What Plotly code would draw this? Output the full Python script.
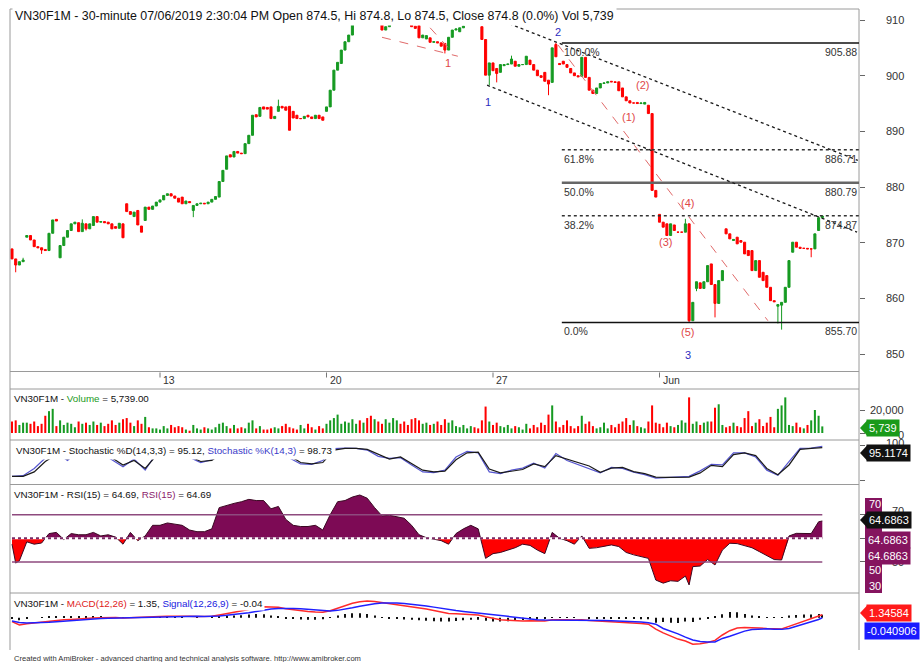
import plotly.graph_objects as go

# ---------------- DATA ----------------
# 30-minute bars, 9 per session; bar 0 = last bars of 6 May, last bar = 7 Jun 14:30
opens = [
    868.9, 867.1, 866.0, 866.6,
    871.0, 871.3, 870.5, 869.3, 869.1, 868.8, 868.6, 871.7, 874.2,
    867.3, 869.5, 871.0, 872.2, 873.4, 873.6, 872.0, 873.4, 872.5,
    873.1, 874.7, 873.7, 873.8, 873.7, 873.4, 872.9, 872.6, 873.4,
    877.0, 875.6, 874.7, 875.8, 873.0, 874.0, 876.4, 876.0, 876.6,
    877.3, 877.7, 878.5, 878.8, 878.4, 878.0, 878.2, 877.0, 877.4,
    875.8, 876.7, 877.0, 877.1, 877.0, 877.3, 877.8, 878.2, 881.0,
    883.2, 885.8, 885.4, 886.4, 886.1, 886.0, 887.8, 889.3, 893.0,
    892.7, 894.4, 894.3, 894.4, 892.3, 893.6, 894.5, 894.4, 894.5,
    893.6, 892.9, 892.3, 892.3, 892.9, 892.6, 892.3, 892.9, 892.6,
    893.6, 894.4, 897.4, 901.0, 902.2, 904.6, 906.1, 907.3, 909.5,
    911.0, 910.4, 911.2, 910.8, 910.2, 910.6, 909.2, 908.2, 908.8,
    910.2, 910.8, 911.0, 910.4, 909.8, 909.2, 908.9, 909.0, 906.8,
    906.6, 906.8, 906.0, 906.1, 905.9, 905.8, 904.6, 906.9, 908.2,
    907.9, 908.6, 909.3, 909.8, 910.5, 910.2, 908.8, 906.5, 900.1,
    902.3, 901.3, 900.6, 901.8, 902.0, 902.1, 902.6, 901.7, 902.0,
    902.0, 902.8, 902.0, 901.0, 900.0, 900.6, 899.2, 898.8, 905.6,
    902.2, 902.6, 902.0, 901.3, 900.5, 900.0, 899.9, 903.3, 899.7,
    897.4, 896.8, 897.8, 898.6, 898.7, 899.0, 898.9, 898.9, 897.8,
    896.2, 895.5, 895.1, 895.2, 895.0, 894.9, 894.7, 893.2, 879.4,
    875.1, 873.7, 873.4, 871.3, 873.2, 871.9, 871.9, 871.9, 873.4,
    856.0, 861.8, 862.8, 861.8, 863.0, 866.2, 862.5, 859.1, 863.2,
    872.5, 871.6, 870.4, 871.0, 870.4, 870.1, 868.6, 868.6, 865.0,
    866.8, 864.7, 864.1, 862.0, 859.6, 858.6, 858.8, 859.3, 862.0,
    868.3, 870.1, 869.2, 869.0, 869.0, 868.9, 868.9, 872.2, 874.5,
]
closes = [
    867.1, 866.0, 866.6, 866.9,
    871.3, 870.5, 869.3, 869.1, 868.7, 868.6, 871.7, 874.1, 873.9,
    869.5, 871.0, 872.2, 873.4, 873.7, 872.0, 873.5, 872.5, 873.4,
    874.7, 873.7, 873.8, 873.6, 873.4, 872.5, 872.6, 873.5, 870.9,
    875.6, 875.1, 875.5, 873.2, 871.9, 876.4, 876.0, 876.6, 877.3,
    877.7, 878.5, 878.8, 878.4, 878.0, 877.3, 877.0, 877.5, 877.2,
    876.7, 877.0, 877.1, 877.0, 877.3, 877.8, 878.3, 881.0, 883.0,
    885.6, 885.4, 886.4, 886.1, 886.0, 887.8, 889.3, 892.9, 892.6,
    894.3, 894.0, 894.0, 892.3, 892.7, 894.5, 894.2, 893.8, 890.2,
    892.4, 892.3, 892.3, 892.7, 892.6, 892.3, 892.9, 892.3, 892.0,
    894.4, 897.4, 901.0, 902.4, 904.6, 906.1, 907.3, 910.0, 911.0,
    910.4, 911.2, 910.8, 910.2, 910.6, 909.8, 908.2, 908.8, 909.6,
    910.8, 911.0, 910.4, 909.8, 909.3, 908.8, 908.5, 906.8, 907.3,
    907.2, 906.0, 906.1, 905.9, 905.3, 904.6, 906.9, 908.2, 908.4,
    908.6, 908.9, 909.8, 910.5, 910.2, 909.6, 906.5, 900.1, 902.3,
    900.9, 900.4, 902.0, 902.0, 902.1, 903.0, 901.7, 902.0, 902.0,
    903.5, 902.0, 901.0, 900.0, 899.7, 899.0, 898.5, 905.0, 903.4,
    902.0, 902.1, 901.5, 900.5, 900.0, 899.8, 903.3, 899.7, 897.4,
    896.8, 897.8, 898.6, 898.7, 898.9, 898.9, 898.8, 897.3, 896.2,
    895.5, 895.1, 895.1, 895.0, 895.1, 895.2, 893.2, 879.4, 878.2,
    873.7, 872.8, 871.3, 873.4, 872.2, 871.9, 871.9, 873.4, 856.0,
    859.3, 863.0, 861.8, 863.0, 865.9, 862.5, 859.1, 863.2, 865.0,
    871.6, 870.7, 870.6, 869.8, 870.1, 868.0, 867.7, 865.0, 866.8,
    863.8, 863.2, 862.0, 859.6, 859.4, 858.9, 859.3, 862.0, 866.8,
    870.1, 869.2, 869.0, 869.0, 868.9, 868.9, 871.6, 874.5, 874.8,
]
# visible wick extremes (bar index -> price)
wick_high = {3: 867.3, 19: 874.2, 72: 895.7, 135: 903.6, 147: 905.88, 182: 874.3}
wick_low = {1: 864.7, 8: 868.0, 20: 872.2, 49: 874.6, 117: 904.0, 129: 898.3, 131: 898.8,
            145: 896.5, 183: 855.7, 185: 861.3, 190: 856.6, 207: 855.5, 208: 854.4, 216: 867.4}

volume_k = [
    10, 11, 7, 9,
    9, 8, 10, 6, 8, 15, 19, 21, 6,
    11, 7, 9, 8, 5, 10, 8, 9, 7,
    10, 7, 9, 6, 8, 11, 7, 9, 12,
    13, 9, 6, 11, 8, 14, 5, 4, 4,
    3, 6, 4, 7, 5, 6, 5, 3, 2,
    7, 4, 3, 5, 4, 3, 5, 8, 9,
    6, 4, 7, 4, 5, 4, 9, 11, 4,
    6, 3, 3, 4, 5, 4, 6, 8, 5,
    4, 3, 7, 4, 8, 5, 3, 6, 4,
    8, 11, 13, 16, 8, 10, 9, 12, 8,
    11, 9, 13, 15, 12, 10, 8, 12, 9,
    13, 11, 8, 10, 7, 12, 13, 11, 8,
    9, 7, 8, 10, 7, 12, 9, 11, 6,
    5, 7, 4, 6, 5, 4, 11, 23, 10,
    7, 9, 6, 5, 7, 4, 6, 5, 3,
    8, 4, 7, 5, 9, 7, 16, 24, 10,
    5, 7, 11, 6, 4, 6, 15, 8, 10,
    6, 4, 5, 9, 4, 7, 5, 8, 10,
    13, 7, 11, 6, 5, 4, 10, 24, 9,
    8, 5, 9, 6, 5, 7, 11, 9, 31,
    8, 10, 7, 9, 10, 10, 22, 25, 7,
    5, 6, 9, 6, 5, 13, 19, 6, 9,
    12, 6, 9, 14, 5, 21, 24, 31, 7,
    6, 9, 5, 4, 7, 11, 20, 15, 5.739,
]

day_tick_bars = [40, 85, 130, 175]
day_tick_labels = ["13", "20", "27", "Jun"]
price_ticks = [850, 860, 870, 880, 890, 900, 910]

fib_levels = [905.88, 886.71, 880.79, 874.87, 855.70]
fib_pcts = ["100.0%", "61.8%", "50.0%", "38.2%", "0.0%"]
fib_start_bar = 148.6

channel_upper = [(128.4, 910.9), (228.6, 884.8)]
channel_lower = [(128.4, 898.3), (228.4, 871.9)]
wave_lines = [[(100.0, 906.9), (120.5, 903.5)],
              [(113.0, 908.6), (117.8, 905.1)],
              [(147.6, 905.5), (204.3, 856.0)]]
blue_labels = [("1", 128.6, 895.3), ("2", 147.6, 907.8), ("3", 182.7, 849.9)]
red_labels = [("1", 117.8, 902.3), ("(1)", 166.5, 892.6), ("(2)", 170.3, 898.3),
              ("(3)", 176.5, 870.1), ("(4)", 182.7, 877.1), ("(5)", 182.7, 853.9)]

stoch_bars = list(range(0, 220, 3))
stoch_d = [12, 12, 25, 55, 75, 62, 80, 85, 80, 66, 45, 58, 35, 72, 85, 85, 70, 55, 58, 80,
           90, 90, 85, 85, 80, 72, 52, 48, 52, 88, 93, 93, 90, 75, 62, 68, 50, 30, 25, 27,
           60, 80, 82, 33, 22, 28, 32, 48, 40, 72, 62, 50, 42, 24, 36, 38, 26, 20, 10, 9,
           9, 10, 22, 44, 40, 75, 80, 72, 35, 17, 45, 90, 93, 95.12]
stoch_k = [12, 14, 35, 65, 80, 58, 85, 82, 78, 60, 40, 62, 30, 78, 88, 82, 68, 52, 60, 88,
           92, 90, 86, 84, 78, 65, 48, 47, 58, 92, 94, 93, 88, 70, 64, 66, 45, 25, 23, 30,
           68, 84, 80, 25, 20, 30, 36, 50, 36, 78, 58, 46, 36, 22, 38, 35, 24, 17, 7, 8,
           10, 12, 28, 47, 45, 80, 80, 68, 30, 15, 55, 93, 94, 98.73]

rsi_bars = [0, 1, 2, 3, 4, 6, 8, 10, 12, 14, 16, 18, 20, 22, 24, 26, 28, 30, 32, 34, 36, 38,
            40, 42, 44, 46, 48, 50, 52, 54, 56, 58, 60, 62, 64, 66, 68, 70, 72, 74, 76, 78,
            80, 82, 84, 86, 88, 90, 92, 94, 96, 98, 100, 102, 104, 106, 108, 110, 112, 114,
            116, 118, 120, 122, 124, 126, 128, 130, 132, 134, 136, 138, 140, 142, 144, 146,
            148, 150, 152, 154, 156, 158, 160, 162, 164, 166, 168, 170, 172, 174, 176, 178,
            180, 182, 183, 184, 186, 188, 190, 192, 194, 196, 198, 200, 202, 204, 206, 208,
            210, 212, 214, 216, 218, 219]
rsi_vals = [45, 29, 31, 39, 47, 45, 46, 54, 55, 49, 54, 53, 53, 55, 52, 53, 51, 45, 55, 48, 52, 61,
            61, 63, 62, 61, 57, 55.6, 55.6, 58, 76, 78, 79.6, 81, 83, 82, 82, 75, 77, 66, 61, 60,
            60, 61, 57, 70, 81, 82, 85, 86.7, 84, 76, 69, 69.5, 68, 67, 61, 53, 50.5, 49.5,
            48, 45, 54, 58, 61, 58, 33, 37, 38, 40, 42, 45, 44, 40, 37, 55,
            50, 48, 45, 52, 41.5, 42, 43, 44.4, 43, 38, 36, 34.5, 33, 14.6, 12, 14,
            13.5, 18, 10.5, 26, 26.5, 32, 27.4, 40, 45.8, 45.5, 44, 42, 38.7, 35, 32, 31.6,
            52, 54.2, 54, 54, 64, 64.69]

macd_bars = list(range(0, 220, 2)) + [219]
macd_vals = [-1.8, -3.4, -2.8, -2.4, -2.0, -1.6, -1.3, -1.0, -0.8, -0.5, -0.3, -0.1, 0.0, 0.1, 0.1,
             -0.1, 0.1, 0.0, 0.2, 0.4, 0.6, 0.7, 0.8, 0.8, 0.7, 0.6, 0.6, 0.7, 1.3, 1.9, 2.4, 2.9,
             3.8, 4.6, 5.1, 5.0, 4.8, 4.2, 3.7, 3.3, 2.9, 2.6, 2.5, 3.2, 4.4, 5.6, 6.7, 7.4, 7.7,
             7.5, 7.0, 6.6, 6.2, 5.8, 5.3, 4.7, 4.0, 3.3, 2.6, 2.0, 1.8, 1.7, 1.5, 1.3, 0.4, -0.4,
             -0.9, -1.2, -1.4, -1.5, -1.4, -1.4, -1.5, -1.0, -0.8, -0.9, -1.1, -1.0, -1.3, -1.5,
             -1.6, -1.6, -1.8, -2.1, -2.4, -2.7, -3.0, -5.3, -7.0, -8.5, -9.9, -10.8, -12.3,
             -12.0, -11.5, -10.5, -8.0, -6.0, -4.8, -4.5, -4.5, -4.8, -5.0, -5.2, -5.2, -4.0,
             -2.8, -1.5, -0.5, 0.9, 1.35]
signal_vals = [-1.5, -2.2, -2.4, -2.4, -2.3, -2.1, -1.9, -1.6, -1.3, -1.0, -0.8, -0.6, -0.4, -0.2,
               -0.1, 0.0, 0.0, 0.0, 0.1, 0.2, 0.3, 0.4, 0.5, 0.6, 0.7, 0.7, 0.6, 0.6, 0.8, 1.1,
               1.4, 1.8, 2.3, 2.9, 3.5, 4.0, 4.3, 4.4, 4.3, 4.1, 3.8, 3.5, 3.2, 3.1, 3.4, 3.9,
               4.6, 5.3, 6.0, 6.5, 6.8, 6.9, 6.8, 6.6, 6.3, 5.9, 5.4, 4.9, 4.3, 3.8, 3.3, 2.9,
               2.5, 2.2, 1.8, 1.3, 0.8, 0.4, 0.0, -0.4, -0.7, -0.9, -1.1, -1.1, -1.0, -1.0, -1.0,
               -1.0, -1.1, -1.2, -1.3, -1.4, -1.5, -1.6, -1.8, -2.0, -2.3, -3.0, -5.0, -6.2,
               -7.5, -9.0, -10.3, -11.0, -11.3, -11.2, -9.6, -8.6, -7.3, -6.2, -5.5, -5.2, -5.1,
               -5.3, -5.4, -5.0, -4.0, -3.0, -2.0, -0.8, -0.04]

# ---------------- STYLE / GEOMETRY ----------------
FONT = "Liberation Sans, Arial, sans-serif"
GREEN = "#169a22"
RED = "#ff0000"
PURPLE = "#7d0a55"
TAGPURPLE = "#85145f"
FRAME = "#9a9a9a"
L, R, T, B = 10, 859, 9, 650
XR = [-0.54, 228.92]
SIDE = 11      # right-side labels / tags
PANEL = 9.8    # indicator panel titles


def px(x):
    return (x - L) / (R - L)


def py(y):
    return (B - y) / (B - T)


fig = go.Figure()
idx = list(range(len(closes)))
highs = [max(o, c) for o, c in zip(opens, closes)]
lows = [min(o, c) for o, c in zip(opens, closes)]
for k, v in wick_high.items():
    highs[k] = v
for k, v in wick_low.items():
    lows[k] = v

fig.add_trace(go.Candlestick(
    x=idx, open=opens, high=highs, low=lows, close=closes,
    increasing=dict(line=dict(color=GREEN, width=1), fillcolor=GREEN),
    decreasing=dict(line=dict(color=RED, width=1), fillcolor=RED),
    whiskerwidth=0, xaxis="x", yaxis="y", hoverinfo="skip", showlegend=False))

# volume
vcol = [GREEN if c >= o else RED for o, c in zip(opens, closes)]
fig.add_trace(go.Bar(x=idx, y=[v * 1000 for v in volume_k], marker=dict(color=vcol, line=dict(width=0)),
                     width=0.55, xaxis="x", yaxis="y2", showlegend=False, hoverinfo="skip"))

# stochastic
fig.add_trace(go.Scatter(x=stoch_bars, y=stoch_k, mode="lines", line=dict(color="#5656d0", width=1.2),
                         xaxis="x", yaxis="y3", showlegend=False, hoverinfo="skip"))
fig.add_trace(go.Scatter(x=stoch_bars, y=stoch_d, mode="lines", line=dict(color="#1a1a1a", width=1.2),
                         xaxis="x", yaxis="y3", showlegend=False, hoverinfo="skip"))

# RSI filled around 50
xs, vs = [], []
for i in range(len(rsi_bars)):
    if i > 0:
        x0, v0, x1, v1 = rsi_bars[i - 1], rsi_vals[i - 1], rsi_bars[i], rsi_vals[i]
        if (v0 - 50) * (v1 - 50) < 0:
            t = (50 - v0) / (v1 - v0)
            xs.append(x0 + t * (x1 - x0))
            vs.append(50)
    xs.append(rsi_bars[i])
    vs.append(rsi_vals[i])
base = [50] * len(xs)
for part, col in (([max(v, 50) for v in vs], PURPLE), ([min(v, 50) for v in vs], RED)):
    fig.add_trace(go.Scatter(x=xs, y=base, mode="lines", line=dict(width=0), xaxis="x", yaxis="y4",
                             showlegend=False, hoverinfo="skip"))
    fig.add_trace(go.Scatter(x=xs, y=part, mode="lines", line=dict(width=0), fill="tonexty", fillcolor=col,
                             xaxis="x", yaxis="y4", showlegend=False, hoverinfo="skip"))
fig.add_trace(go.Scatter(x=rsi_bars, y=rsi_vals, mode="lines", line=dict(color="#3a0822", width=1),
                         xaxis="x", yaxis="y4", showlegend=False, hoverinfo="skip"))
for lev in (70, 30):
    fig.add_trace(go.Scatter(x=[0, idx[-1]], y=[lev, lev], mode="lines", line=dict(color="#8e4a7e", width=1.5),
                             xaxis="x", yaxis="y4", showlegend=False, hoverinfo="skip"))
fig.add_trace(go.Scatter(x=[0, idx[-1]], y=[50, 50], mode="lines", line=dict(color="#ffffff", width=2),
                         xaxis="x", yaxis="y4", showlegend=False, hoverinfo="skip"))
fig.add_trace(go.Scatter(x=[0, idx[-1]], y=[50, 50], mode="lines", line=dict(color="#7a2a66", width=2, dash="dot"),
                         xaxis="x", yaxis="y4", showlegend=False, hoverinfo="skip"))

# MACD
hist = [m - s for m, s in zip(macd_vals, signal_vals)]
fig.add_trace(go.Bar(x=macd_bars, y=hist, width=0.3, marker=dict(color="#111111", line=dict(width=0)),
                     xaxis="x", yaxis="y5", showlegend=False, hoverinfo="skip"))
fig.add_trace(go.Scatter(x=macd_bars, y=macd_vals, mode="lines", line=dict(color="#ff2a2a", width=1.5),
                         xaxis="x", yaxis="y5", showlegend=False, hoverinfo="skip"))
fig.add_trace(go.Scatter(x=macd_bars, y=signal_vals, mode="lines", line=dict(color="#2020ff", width=1.5),
                         xaxis="x", yaxis="y5", showlegend=False, hoverinfo="skip"))


def yax(domain, rng, tickvals):
    return dict(domain=domain, range=rng, side="right", anchor="x", showgrid=False, zeroline=False,
                showline=False, ticks="outside", ticklen=5, tickcolor="#666", tickvals=tickvals,
                showticklabels=False, fixedrange=True)


shapes = []
annotations = []


def hline(y, x0=L, x1=R, color=FRAME, width=1):
    shapes.append(dict(type="line", xref="paper", yref="paper", x0=px(x0), x1=px(x1), y0=py(y), y1=py(y),
                       line=dict(color=color, width=width)))


def vline(x, y0, y1, color=FRAME, width=1):
    shapes.append(dict(type="line", xref="paper", yref="paper", x0=px(x), x1=px(x), y0=py(y0), y1=py(y1),
                       line=dict(color=color, width=width)))


def text(x, y, s, size=12, color="#222", anchor="left", bg=None, xref="paper", yref="paper", yanchor="middle",
         yshift=0, pad=1, xshift=0):
    a = dict(x=x, y=y, xref=xref, yref=yref, text=s, showarrow=False, xanchor=anchor, yanchor=yanchor,
             font=dict(family=FONT, size=size, color=color), yshift=yshift, xshift=xshift, borderpad=pad)
    if bg:
        a["bgcolor"] = bg
    annotations.append(a)


def tag(s, yc, bg, x0=866, arrow=True, color="white"):
    if arrow:
        shapes.append(dict(type="path", xref="paper", yref="paper",
                           path=f"M {px(860)},{py(yc)} L {px(x0 + 1)},{py(yc - 7.5)} L {px(x0 + 1)},{py(yc + 7.5)} Z",
                           fillcolor=bg, line=dict(width=0)))
    text(px(x0), py(yc), s, size=SIDE, color=color, bg=bg, pad=2)


# frame
hline(T)
for y in (371.5, 389, 440, 484.5, 593):
    hline(y)
vline(L, T, B)
vline(R, T, B)

# x-axis day labels
for b, lab in zip(day_tick_bars, day_tick_labels):
    shapes.append(dict(type="line", xref="x", yref="paper", x0=b, x1=b, y0=py(372.5), y1=py(377.5),
                       line=dict(color="#777", width=1)))
    text(b, py(380), lab, size=10.5, color="#333", xref="x", xshift=1)

# fibonacci levels
fib_styles = [dict(color="#111", width=1.5), dict(color="#333", width=1.5, dash="dot"),
              dict(color="#666", width=2.5), dict(color="#333", width=1.5, dash="dot"),
              dict(color="#111", width=1.5)]
for lev, pct, st in zip(fib_levels, fib_pcts, fib_styles):
    shapes.append(dict(type="line", xref="x", yref="y", x0=fib_start_bar, x1=XR[1], y0=lev, y1=lev, line=st))
    text(fib_start_bar + 0.2, lev, pct, size=10.5, color="#333", xref="x", yref="y", yanchor="top", yshift=-2, pad=0)
    text(px(858), lev, f"{lev:.2f}", size=10.5, color="#333", anchor="right", yref="y", yanchor="top",
         yshift=-2, pad=0)

# channel and wave lines
for ln in (channel_upper, channel_lower):
    shapes.append(dict(type="line", xref="x", yref="y", x0=ln[0][0], y0=ln[0][1], x1=ln[1][0], y1=ln[1][1],
                       line=dict(color="#1a1a1a", width=1.3, dash="dot")))
for ln in wave_lines:
    shapes.append(dict(type="line", xref="x", yref="y", x0=ln[0][0], y0=ln[0][1], x1=ln[1][0], y1=ln[1][1],
                       line=dict(color="#e06a6a", width=1, dash="dash")))
for s, b, p in blue_labels:
    text(b, p, s, size=11, color="#2c2cc0", anchor="center", xref="x", yref="y")
for s, b, p in red_labels:
    text(b, p, s, size=11, color="#e04848", anchor="center", xref="x", yref="y")

# price axis labels
for v in price_ticks:
    text(px(906), v, str(v), size=SIDE, color="#333", anchor="right", yref="y")

# panel titles (white boxes hide what is beneath, as in the reference)
text(px(12), py(16.5), "VN30F1M - 30-minute 07/06/2019 2:30:04 PM Open 874.5, Hi 874.8, Lo 874.5, "
     "Close 874.8 (0.0%) Vol 5,739", size=12.4, color="#111", bg="white", pad=2)
text(px(12), py(398), "VN30F1M - <span style='color:#1a9a1a'>Volume</span> = 5,739.00", size=PANEL, color="#111")
text(px(12), py(450), "VN30F1M - Stochastic %D(14,3,3) = 95.12, <span style='color:#3a3ac8'>Stochastic %K(14,3)"
     "</span> = 98.73", size=PANEL, color="#111", bg="white", pad=3)
text(px(12), py(494), "VN30F1M - RSI(15) = 64.69, <span style='color:#8b1a6b'>RSI(15)</span> = 64.69",
     size=PANEL, color="#111", bg="white")
text(px(12), py(603), "VN30F1M - <span style='color:#e02020'>MACD(12,26)</span> = 1.35, "
     "<span style='color:#2020e0'>Signal(12,26,9)</span> = -0.04", size=PANEL, color="#111", bg="white")
text(px(12), py(658), "Created with AmiBroker - advanced charting and technical analysis software. "
     "http://www.amibroker.com", size=7.6, color="#333")

# volume axis labels and tag
text(px(906), py(410), "20,000", size=SIDE, color="#333", anchor="right")
text(px(906), py(435), "0", size=SIDE, color="#333", anchor="right")
tag("5,739", 428, "#1a9a1a")

# stochastic tag
text(px(906), py(443), "100", size=SIDE, color="#333", anchor="right")
tag("95.1174", 453, "#111111")

# RSI side labels
text(px(906), py(511), "70", size=SIDE, color="#333", anchor="right")
text(px(906), py(562), "50", size=SIDE, color="#333", anchor="right")
shapes.append(dict(type="rect", xref="paper", yref="paper", x0=px(865), x1=px(882), y0=py(593), y1=py(498),
                   fillcolor=TAGPURPLE, line=dict(width=0)))
text(px(867), py(504), "70", size=SIDE, color="white")
text(px(867), py(570), "50", size=SIDE, color="white")
text(px(867), py(586), "30", size=SIDE, color="white")
tag("64.6863", 540, TAGPURPLE, x0=865, arrow=False)
tag("64.6863", 556, TAGPURPLE, x0=865, arrow=False)
tag("64.6863", 520, "#111111")

# MACD tags
tag("1.34584", 613, "#ff1a1a")
tag("-0.040906", 631, "#1a1aff", x0=864, arrow=False)

fig.update_layout(
    width=920, height=662, margin=dict(l=L, r=920 - R, t=T, b=662 - B),
    paper_bgcolor="white", plot_bgcolor="white", showlegend=False, barmode="overlay", boxgap=0.2,
    font=dict(family=FONT, size=12, color="#222"),
    xaxis=dict(domain=[0, 1], range=XR, visible=False, rangeslider=dict(visible=False), fixedrange=True),
    yaxis=yax([py(371.5), 1], [846.88, 911.98], price_ticks),
    yaxis2=yax([py(440), py(389)], [-6090, 38280], [0, 20000]),
    yaxis3=yax([py(484.5), py(440)], [-11.4, 117.1], [0, 100]),
    yaxis4=yax([py(593), py(484.5)], [3.64, 95.6], [30, 50, 70]),
    yaxis5=yax([0, py(593)], [-14.95, 11.44], []),
    shapes=shapes, annotations=annotations,
)
fig.write_html("out.html")
